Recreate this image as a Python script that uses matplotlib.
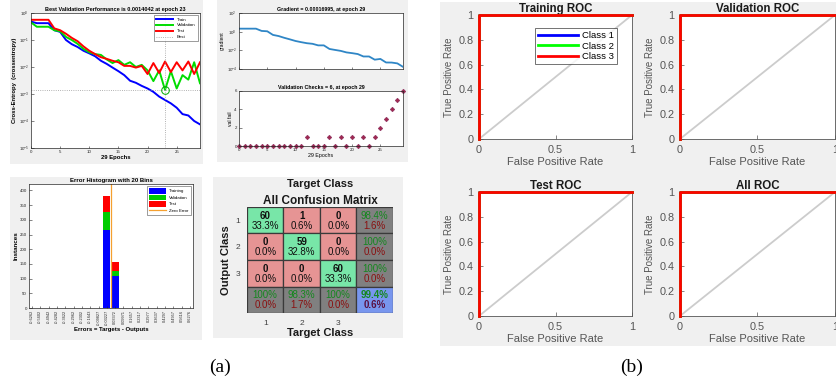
import numpy as np
import matplotlib
matplotlib.use("Agg")
import matplotlib.pyplot as plt
from matplotlib.patches import Rectangle
from matplotlib.ticker import FixedLocator, NullLocator, FuncFormatter

plt.rcParams['font.family'] = ['Liberation Sans', 'DejaVu Sans']

# ---------------- data ----------------
epochs = list(range(30))
train_ce = [0.48, 0.42, 0.42, 0.42, 0.23, 0.20, 0.10, 0.07, 0.055, 0.040,
            0.032, 0.025, 0.017, 0.013, 0.0095, 0.0070, 0.0050, 0.0031, 0.0026, 0.0020,
            0.0016, 0.0012, 0.00080, 0.00060, 0.00045, 0.00031, 0.00018, 0.00016, 0.00010, 0.000075]
val_ce = [0.45, 0.31, 0.31, 0.31, 0.23, 0.21, 0.13, 0.10, 0.072, 0.047,
          0.035, 0.030, 0.028, 0.019, 0.014, 0.018, 0.012, 0.015, 0.010, 0.012,
          0.0075, 0.0030, 0.0075, 0.0014042, 0.0070, 0.0016, 0.0050, 0.0034, 0.015, 0.0025]
test_ce = [0.56, 0.56, 0.56, 0.56, 0.27, 0.23, 0.17, 0.12, 0.090, 0.058,
           0.040, 0.030, 0.023, 0.020, 0.017, 0.015, 0.011, 0.011, 0.0095, 0.011,
           0.0055, 0.014, 0.0060, 0.016, 0.0065, 0.015, 0.0075, 0.016, 0.0055, 0.015]
best_epoch = 23
best_perf = 0.0014042

gradient = [2.1, 2.1, 2.1, 2.1, 1.2, 1.1, 0.45, 0.34, 0.22, 0.15,
            0.10, 0.075, 0.058, 0.050, 0.034, 0.034, 0.014, 0.011, 0.0087, 0.0060,
            0.0050, 0.0040, 0.0022, 0.0022, 0.0010, 0.0012, 0.00050, 0.00049, 0.00040, 0.00016995]
val_fail = [0, 0, 0, 0, 0, 0, 0, 0, 0, 0,
            0, 0, 1, 0, 0, 0, 1, 0, 1, 0,
            1, 0, 1, 0, 1, 2, 3, 4, 5, 6]

bin_centers = [-0.6262, -0.5602, -0.4942, -0.4282, -0.3622, -0.2962, -0.2302, -0.1643,
               -0.09827, -0.03227, 0.03372, 0.09971, 0.1657, 0.2317, 0.2977, 0.3637,
               0.4297, 0.4957, 0.5616, 0.6276]
bin_labels = ['-0.6262', '-0.5602', '-0.4942', '-0.4282', '-0.3622', '-0.2962', '-0.2302',
              '-0.1643', '-0.09827', '-0.03227', '0.03372', '0.09971', '0.1657', '0.2317',
              '0.2977', '0.3637', '0.4297', '0.4957', '0.5616', '0.6276']
hist_train = [1, 0, 0, 0, 0, 0, 0, 0, 1, 265, 110, 1, 0, 0, 0, 0, 0, 0, 0, 0]
hist_val = [0, 0, 0, 0, 0, 0, 0, 0, 0, 62, 17, 0, 0, 0, 0, 0, 0, 0, 0, 0]
hist_test = [0, 0, 0, 0, 0, 0, 0, 0, 0, 55, 28, 0, 0, 0, 0, 0, 0, 0, 0, 0]

conf_counts = [[60, 1, 0],
               [0, 59, 0],
               [0, 0, 60]]
class_names = ['1', '2', '3']

roc_titles = ['Training ROC', 'Validation ROC', 'Test ROC', 'All ROC']
roc_classes = ['Class 1', 'Class 2', 'Class 3']
roc_fpr = [0, 0, 1]
roc_tpr = [0, 1, 1]

# ---------------- figure helpers ----------------
W, H = 837, 382
fig = plt.figure(figsize=(W / 100, H / 100), dpi=100)
fig.patch.set_facecolor('white')


def px_axes(l, t, r, b):
    return fig.add_axes([l / W, 1 - b / H, (r - l) / W, (b - t) / H])


def panel_bg(l, t, r, b, color='#f0f0f0'):
    fig.patches.append(Rectangle((l / W, 1 - b / H), (r - l) / W, (b - t) / H,
                                 transform=fig.transFigure, facecolor=color,
                                 edgecolor='none', zorder=-5))


def small_style(ax, size=3.2):
    ax.tick_params(direction='in', length=1.8, width=0.4, labelsize=size,
                   colors='#262626', pad=1.5)
    for s in ax.spines.values():
        s.set_linewidth(0.5)
        s.set_color('#262626')


# backgrounds
panel_bg(10, 0, 203, 164)
panel_bg(217, 0, 408, 162)
panel_bg(10, 177, 202, 340)
panel_bg(213, 177, 403, 338)
panel_bg(440, 2, 837, 346)

# ---------------- performance ----------------
ax = px_axes(31, 13, 200, 148)
ax.semilogy(epochs, train_ce, color='#0000ff', lw=1.4, label='Train')
ax.semilogy(epochs, val_ce, color='#00dd00', lw=1.4, label='Validation')
ax.semilogy(epochs, test_ce, color='#ff0000', lw=1.4, label='Test')
ax.axvline(best_epoch, color='#999999', ls=':', lw=0.6, label='Best')
ax.axhline(best_perf, color='#999999', ls=':', lw=0.6)
ax.plot([best_epoch], [best_perf], 'o', mfc='none', mec='#00aa00', ms=5.5, mew=0.7)
ax.set_xlim(0, 29)
ax.set_ylim(1e-5, 1e0)
ax.set_xticks([0, 5, 10, 15, 20, 25])
ax.yaxis.set_minor_locator(NullLocator())
small_style(ax)
ax.set_title('Best Validation Performance is 0.0014042 at epoch 23',
             fontsize=4, fontweight='bold', pad=1.5)
ax.set_xlabel('29 Epochs', fontsize=4.2, fontweight='bold', labelpad=1)
ax.set_ylabel('Cross-Entropy  (crossentropy)', fontsize=4.2, fontweight='bold', labelpad=1)
leg = ax.legend(loc='upper right', fontsize=3.2, frameon=True, fancybox=False,
                handlelength=3.8, borderpad=0.5, labelspacing=0.4)
leg.get_frame().set_edgecolor('#262626')
leg.get_frame().set_linewidth(0.4)

# ---------------- gradient ----------------
ax = px_axes(239, 13, 403, 69)
ax.semilogy(epochs, gradient, color='#2f86c6', lw=1.3)
ax.set_xlim(0, 29)
ax.set_ylim(1e-4, 1e2)
ax.yaxis.set_major_locator(FixedLocator([1e-4, 1e-2, 1e0, 1e2]))
ax.yaxis.set_minor_locator(NullLocator())
ax.set_xticks([0, 5, 10, 15, 20, 25])
ax.set_xticklabels([])
small_style(ax)
ax.set_title('Gradient = 0.00016995, at epoch 29', fontsize=3.8, fontweight='bold', pad=1.5)
ax.set_ylabel('gradient', fontsize=3.6, labelpad=1)

# ---------------- validation checks ----------------
ax = px_axes(239, 91, 403, 146)
ax.plot(epochs, val_fail, 'D', color='#a02850', ms=2.4, mew=0.3, mec='#7a1a50',
        clip_on=False)
ax.set_xlim(0, 29)
ax.set_ylim(0, 6)
ax.set_yticks([0, 2, 4, 6])
ax.set_xticks([0, 5, 10, 15, 20, 25])
small_style(ax)
ax.set_title('Validation Checks = 6, at epoch 29', fontsize=3.8, fontweight='bold', pad=1.5)
ax.set_xlabel('29 Epochs', fontsize=3.8, labelpad=1)
ax.set_ylabel('val fail', fontsize=3.6, labelpad=1)

# ---------------- error histogram ----------------
ax = px_axes(29, 184, 193, 308)
step = bin_centers[1] - bin_centers[0]
bw = step * 0.85
bottom_val = np.array(hist_train)
bottom_test = bottom_val + np.array(hist_val)
b1 = ax.bar(bin_centers, hist_train, width=bw, color='#0000ff', label='Training')
b2 = ax.bar(bin_centers, hist_val, width=bw, bottom=bottom_val, color='#00cc00',
            label='Validation')
b3 = ax.bar(bin_centers, hist_test, width=bw, bottom=bottom_test, color='#ff0000',
            label='Test')
zl = ax.axvline(0, color='#f5a030', lw=0.9, label='Zero Error')
ax.set_xlim(bin_centers[0] - 0.36 * step, bin_centers[-1] + 0.36 * step)
ax.set_ylim(0, 422)
ax.set_yticks(range(0, 401, 50))
ax.set_xticks(bin_centers)
ax.set_xticklabels(bin_labels, rotation=90)
small_style(ax)
ax.tick_params(axis='x', labelsize=2.8)
ax.set_title('Error Histogram with 20 Bins', fontsize=4.3, fontweight='bold', pad=1.5)
ax.set_xlabel('Errors = Targets - Outputs', fontsize=4.3, fontweight='bold', labelpad=1.5)
ax.set_ylabel('Instances', fontsize=4.5, fontweight='bold', labelpad=1)
leg = ax.legend([b1, b2, b3, zl], ['Training', 'Validation', 'Test', 'Zero Error'],
                loc='upper right', fontsize=3.2, frameon=True, fancybox=False,
                handlelength=3.8, handleheight=1.4, borderpad=0.5, labelspacing=0.3)
leg.get_frame().set_edgecolor('#262626')
leg.get_frame().set_linewidth(0.4)

# ---------------- confusion matrix ----------------
ax = px_axes(247, 207, 393, 313)
ax.set_facecolor('none')
cm = np.array(conf_counts)
n = cm.shape[0]
total = cm.sum()
green = '#78e6a8'
red = '#e69494'
gray = '#808080'
blue = '#7896ee'
for i in range(n + 1):
    for j in range(n + 1):
        if i < n and j < n:
            fc = green if i == j else red
        elif i == n and j == n:
            fc = blue
        else:
            fc = gray
        ax.add_patch(Rectangle((j, i), 1, 1, facecolor=fc, edgecolor='#3a3a3a', lw=0.9))
        if i < n and j < n:
            ax.text(j + 0.5, i + 0.33, f'{cm[i, j]}', ha='center', va='center',
                    fontsize=7, fontweight='bold', color='#101010')
            ax.text(j + 0.5, i + 0.70, f'{100 * cm[i, j] / total:.1f}%', ha='center',
                    va='center', fontsize=7, color='#101010')
        else:
            if i < n:
                correct, count = cm[i, i], cm[i, :].sum()
            elif j < n:
                correct, count = cm[j, j], cm[:, j].sum()
            else:
                correct, count = np.trace(cm), total
            acc = 100 * correct / count
            top = '100%' if acc == 100 else f'{acc:.1f}%'
            bot = '0.0%' if acc == 100 else f'{100 - acc:.1f}%'
            weight = 'bold' if (i == n and j == n) else 'normal'
            ax.text(j + 0.5, i + 0.33, top, ha='center', va='center', fontsize=7,
                    color='#14871e', fontweight=weight)
            ax.text(j + 0.5, i + 0.70, bot, ha='center', va='center', fontsize=7,
                    color='#5a1040' if i == n and j == n else '#8a1010', fontweight=weight)
ax.set_xlim(0, n + 1)
ax.set_ylim(n + 1, 0)
ax.set_xticks([k + 0.5 for k in range(n)])
ax.set_xticklabels(class_names)
ax.set_yticks([k + 0.5 for k in range(n)])
ax.set_yticklabels(class_names)
ax.tick_params(length=0, labelsize=6, colors='#404040', pad=5)
for s in ax.spines.values():
    s.set_visible(False)
ax.set_title('All Confusion Matrix', fontsize=8.5, fontweight='bold', pad=2, color='#1a1a1a')
ax.set_xlabel('Target Class', fontsize=8, fontweight='bold', labelpad=1, color='#1a1a1a')
ax.set_ylabel('Output Class', fontsize=8, fontweight='bold', labelpad=3, color='#1a1a1a')
fig.text(320 / W, 1 - 184 / H, 'Target Class', ha='center', va='center', fontsize=8,
         fontweight='bold', color='#1a1a1a')

# ---------------- ROC curves ----------------
roc_boxes = [(479, 15, 632, 139), (680, 15, 835, 139),
             (479, 192, 632, 316), (680, 192, 835, 316)]
roc_colors = ['#0000ff', '#00ff00', '#ff0000']
fmt = FuncFormatter(lambda v, p: f'{v:g}')
for k, (title, box) in enumerate(zip(roc_titles, roc_boxes)):
    ax = px_axes(*box)
    ax.plot([0, 1], [0, 1], color='#cccccc', lw=1.3, zorder=1)
    for c, name in enumerate(roc_classes):
        ax.plot(roc_fpr, roc_tpr, color=roc_colors[c], lw=2.0, label=name,
                clip_on=False, zorder=3 + c)
    ax.set_xlim(0, 1)
    ax.set_ylim(0, 1)
    ax.set_xticks([0, 0.5, 1])
    ax.set_yticks([0, 0.2, 0.4, 0.6, 0.8, 1])
    ax.xaxis.set_major_formatter(fmt)
    ax.yaxis.set_major_formatter(fmt)
    ax.tick_params(direction='in', length=3, width=0.5, labelsize=7.8,
                   colors='#555555', pad=4)
    for s in ax.spines.values():
        s.set_linewidth(0.6)
        s.set_color('#555555')
    ax.set_title(title, fontsize=8.3, fontweight='bold', pad=2, color='#1a1a1a')
    ax.set_xlabel('False Positive Rate', fontsize=8, color='#555555', labelpad=2)
    ax.set_ylabel('True Positive Rate', fontsize=7, color='#555555', labelpad=3)
    if k == 0:
        leg = ax.legend(loc='upper right', bbox_to_anchor=(0.935, 0.93), fontsize=6.8,
                        frameon=True, fancybox=False, handlelength=4.2,
                        borderpad=0.3, labelspacing=0.15, handletextpad=0.5)
        leg.get_frame().set_edgecolor('#333333')
        leg.get_frame().set_linewidth(0.6)

# panel labels
fig.text(220 / W, 1 - 367 / H, '(a)', ha='center', va='center', fontsize=14,
         family='Liberation Serif')
fig.text(632 / W, 1 - 367 / H, '(b)', ha='center', va='center', fontsize=14,
         family='Liberation Serif')

fig.savefig('out.png', dpi=100, facecolor='white')
